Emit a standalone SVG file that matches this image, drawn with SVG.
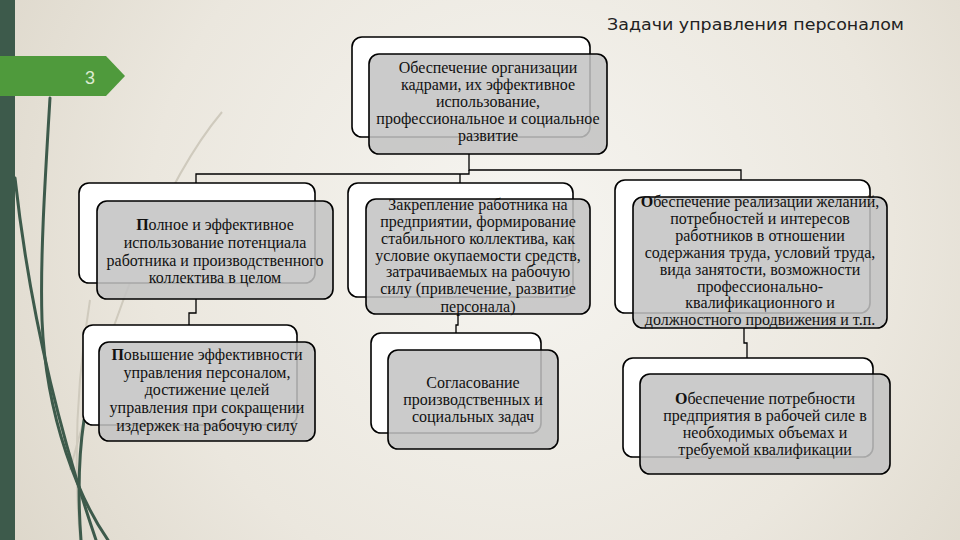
<svg xmlns="http://www.w3.org/2000/svg" width="960" height="540" viewBox="0 0 960 540">
<defs>
<radialGradient id="bg" cx="520" cy="230" r="620" gradientUnits="userSpaceOnUse">
<stop offset="0" stop-color="#f6f5f1"/>
<stop offset="0.6" stop-color="#ebe7de"/>
<stop offset="1" stop-color="#dcd6c9"/>
</radialGradient>
<style>
.back{fill:#ffffff;stroke:#000;stroke-width:1.6}
.front{fill:#c3c3c3;fill-opacity:0.86;stroke:#000;stroke-width:1.6}
.t{font-family:"Liberation Serif","Times New Roman",serif;font-size:16px;fill:#111;text-anchor:middle}
.conn{fill:none;stroke:#000;stroke-width:1.3}
.grass{fill:none;stroke:#3d5a4b;stroke-width:3;stroke-linecap:round}
.faint{fill:none;stroke:#cfcabd;stroke-width:2}
</style>
</defs>
<rect width="960" height="540" fill="url(#bg)"/>
<g id="decor">
<path class="faint" d="M222 112 Q140 210 70 470"/>
<path class="faint" d="M90 300 Q70 420 80 540"/>
<path class="grass" d="M50 98 C45 180 40 260 42 320 C46 420 80 500 108 540"/>
<path class="grass" d="M15 178 C24 260 45 390 96 540"/>
<path class="grass" d="M84 420 C78 460 78 500 81 540"/>
<rect x="0" y="0" width="15" height="540" fill="#3d5a4b"/>
<polygon points="0,56 106,56 125,76 106,96 0,96" fill="#4f9a3c"/>
<text x="90" y="84" font-family="'Liberation Sans',sans-serif" font-size="18" fill="#dcebd2" text-anchor="middle">3</text>
<text x="904" y="30" font-family="'DejaVu Sans',sans-serif" font-size="15.5" fill="#222" text-anchor="end" textLength="297" lengthAdjust="spacingAndGlyphs">Задачи управления персоналом</text>
</g>
<g id="connectors">
<path class="conn" d="M469 154 V170 H741 V180"/>
<path class="conn" d="M469 170 V174 H196 V183"/>
<path class="conn" d="M460 174 V183"/>
<path class="conn" d="M196 299 V313 H189 V325"/>
<path class="conn" d="M458 314 V325 H456 V333"/>
<path class="conn" d="M744 328 V343 H747 V358"/>
</g>
<g id="node-top">
<rect class="back" x="352" y="37" width="238" height="100" rx="10"/>
<rect class="front" x="369" y="54" width="238" height="100" rx="10"/>
<text class="t"><tspan x="488" y="73">Обеспечение организации</tspan><tspan x="488" y="90">кадрами, их эффективное</tspan><tspan x="488" y="107">использование,</tspan><tspan x="488" y="124">профессиональное и социальное</tspan><tspan x="488" y="141">развитие</tspan></text>
</g>
<g id="node-l1">
<rect class="back" x="79" y="183" width="236" height="100" rx="10"/>
<rect class="front" x="97" y="201" width="236" height="98" rx="10"/>
<text class="t"><tspan x="215" y="230"><tspan font-weight="bold">П</tspan>олное и эффективное</tspan><tspan x="215" y="248">использование потенциала</tspan><tspan x="215" y="266">работника и производственного</tspan><tspan x="215" y="283">коллектива в целом</tspan></text>
</g>
<g id="node-m1">
<rect class="back" x="348" y="183" width="225" height="114" rx="10"/>
<rect class="front" x="366" y="199" width="224" height="115" rx="10"/>
<text class="t"><tspan x="478" y="210">Закрепление работника на</tspan><tspan x="478" y="227">предприятии, формирование</tspan><tspan x="478" y="244">стабильного коллектива, как</tspan><tspan x="478" y="261">условие окупаемости средств,</tspan><tspan x="478" y="277">затрачиваемых на рабочую</tspan><tspan x="478" y="294">силу (привлечение, развитие</tspan><tspan x="478" y="312">персонала)</tspan></text>
</g>
<g id="node-r1">
<rect class="back" x="615" y="180" width="255" height="133" rx="10"/>
<rect class="front" x="633" y="197" width="254" height="131" rx="10"/>
<text class="t"><tspan x="760" y="207"><tspan font-weight="bold">О</tspan>беспечение реализации желаний,</tspan><tspan x="760" y="224">потребностей и интересов</tspan><tspan x="760" y="241">работников в отношении</tspan><tspan x="760" y="258">содержания труда, условий труда,</tspan><tspan x="760" y="275">вида занятости, возможности</tspan><tspan x="760" y="292">профессионально-</tspan><tspan x="760" y="308">квалификационного и</tspan><tspan x="760" y="325">должностного продвижения и т.п.</tspan></text>
</g>
<g id="node-l2">
<rect class="back" x="83" y="325" width="214" height="100" rx="10"/>
<rect class="front" x="99" y="342" width="216" height="99" rx="10"/>
<text class="t"><tspan x="207" y="360"><tspan font-weight="bold">П</tspan>овышение эффективности</tspan><tspan x="207" y="378">управления персоналом,</tspan><tspan x="207" y="395">достижение целей</tspan><tspan x="207" y="413">управления при сокращении</tspan><tspan x="207" y="431">издержек на рабочую силу</tspan></text>
</g>
<g id="node-m2">
<rect class="back" x="371" y="333" width="170" height="100" rx="10"/>
<rect class="front" x="388" y="350" width="170" height="99" rx="10"/>
<text class="t"><tspan x="473" y="388">Согласование</tspan><tspan x="473" y="405">производственных и</tspan><tspan x="473" y="422">социальных задач</tspan></text>
</g>
<g id="node-r2">
<rect class="back" x="623" y="358" width="250" height="99" rx="10"/>
<rect class="front" x="640" y="374" width="250" height="100" rx="10"/>
<text class="t"><tspan x="765" y="404"><tspan font-weight="bold">О</tspan>беспечение потребности</tspan><tspan x="765" y="421">предприятия в рабочей силе в</tspan><tspan x="765" y="438">необходимых объемах и</tspan><tspan x="765" y="455">требуемой квалификации</tspan></text>
</g>
</svg>
